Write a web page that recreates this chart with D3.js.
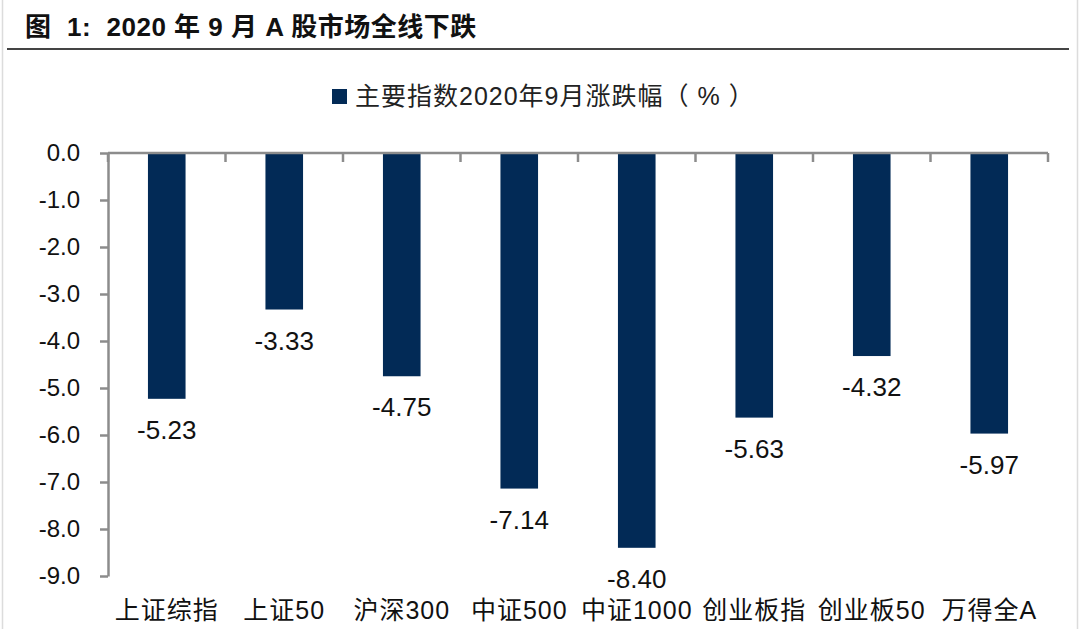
<!DOCTYPE html>
<html>
<head>
<meta charset="utf-8">
<script src="https://cdn.jsdelivr.net/npm/d3@7"></script>
<style>
  body { margin: 0; background: #fff; }
  svg { display: block; }
</style>
</head>
<body>
<svg width="1080" height="629"></svg>
<script>
// data
const categories = ["上证综指", "上证50", "沪深300", "中证500", "中证1000", "创业板指", "创业板50", "万得全A"];
const values = [-5.23, -3.33, -4.75, -7.14, -8.40, -5.63, -4.32, -5.97];
const yTicks = [0, -1, -2, -3, -4, -5, -6, -7, -8, -9];
const titleText = "图  1:  2020 年 9 月 A 股市场全线下跌";
const legendText = "主要指数2020年9月涨跌幅（ % ）";

const svg = d3.select("svg");
const width = +svg.attr("width");
const height = +svg.attr("height");
const font = "'Liberation Sans', Arial, 'Noto Sans CJK SC', sans-serif";
const barColor = "#022a56";
const axisColor = "#8c8c8c";

// frame: light side borders + title rule
svg.append("line").attr("x1", 2.5).attr("x2", 2.5).attr("y1", 0).attr("y2", height)
  .attr("stroke", "#dcdcdc").attr("stroke-width", 1.5);
svg.append("line").attr("x1", width - 2.5).attr("x2", width - 2.5).attr("y1", 0).attr("y2", height)
  .attr("stroke", "#dcdcdc").attr("stroke-width", 1.5);

svg.append("text")
  .attr("x", 25).attr("y", 36)
  .attr("font-family", font).attr("font-size", 26).attr("font-weight", "bold")
  .attr("letter-spacing", 0.5)
  .attr("fill", "#111")
  .style("white-space", "pre")
  .text(titleText);

svg.append("line").attr("x1", 7).attr("x2", 1069).attr("y1", 49).attr("y2", 49)
  .attr("stroke", "#444").attr("stroke-width", 2);

// legend
svg.append("rect").attr("x", 332).attr("y", 89).attr("width", 15).attr("height", 15)
  .attr("fill", barColor);
svg.append("text")
  .attr("x", 355).attr("y", 105)
  .attr("font-family", font).attr("font-size", 25)
  .attr("letter-spacing", 1)
  .attr("fill", "#222")
  .style("white-space", "pre")
  .text(legendText);

// scales
const x = d3.scaleBand().domain(categories).range([108, 1048]).paddingInner(0.68).paddingOuter(0.34);
const y = d3.scaleLinear().domain([-9, 0]).range([576, 153]);

// y axis
const yAxis = svg.append("g")
  .attr("transform", "translate(108,0)")
  .call(d3.axisLeft(y).tickValues(yTicks).tickFormat(d3.format(".1f")).tickSize(8).tickPadding(20).tickSizeOuter(0));
yAxis.select(".domain").attr("stroke", axisColor).attr("stroke-width", 2.5);
yAxis.selectAll(".tick line").attr("stroke", axisColor).attr("stroke-width", 2.5);
yAxis.selectAll(".tick text")
  .attr("font-family", font).attr("font-size", 24).attr("fill", "#111")
  .text(d => d === 0 ? "0.0" : d3.format(".1f")(d).replace("−", "-"));

// bars
svg.append("g").selectAll("rect")
  .data(values)
  .join("rect")
  .attr("x", (d, i) => x(categories[i]))
  .attr("y", y(0))
  .attr("width", x.bandwidth())
  .attr("height", d => y(d) - y(0))
  .attr("fill", barColor);

// top axis (zero line) with ticks at category boundaries
const boundaries = d3.range(categories.length + 1);
const step = x.step();
const xStart = 108;
svg.append("line")
  .attr("x1", xStart).attr("x2", 1048).attr("y1", y(0)).attr("y2", y(0))
  .attr("stroke", axisColor).attr("stroke-width", 2.5);
svg.append("g").selectAll("line")
  .data(boundaries)
  .join("line")
  .attr("x1", d => xStart + d * step).attr("x2", d => xStart + d * step)
  .attr("y1", y(0)).attr("y2", y(0) + 9)
  .attr("stroke", axisColor).attr("stroke-width", 2.5);

// value labels
svg.append("g").selectAll("text")
  .data(values)
  .join("text")
  .attr("x", (d, i) => x(categories[i]) + x.bandwidth() / 2)
  .attr("y", d => y(d) + 40)
  .attr("text-anchor", "middle")
  .attr("font-family", font).attr("font-size", 26).attr("fill", "#111")
  .text(d => d.toFixed(2));

// category labels
svg.append("g").selectAll("text")
  .data(categories)
  .join("text")
  .attr("x", d => x(d) + x.bandwidth() / 2)
  .attr("y", 619)
  .attr("text-anchor", "middle")
  .attr("font-family", font).attr("font-size", 25).attr("letter-spacing", 1)
  .attr("fill", "#111")
  .text(d => d);
</script>
</body>
</html>
